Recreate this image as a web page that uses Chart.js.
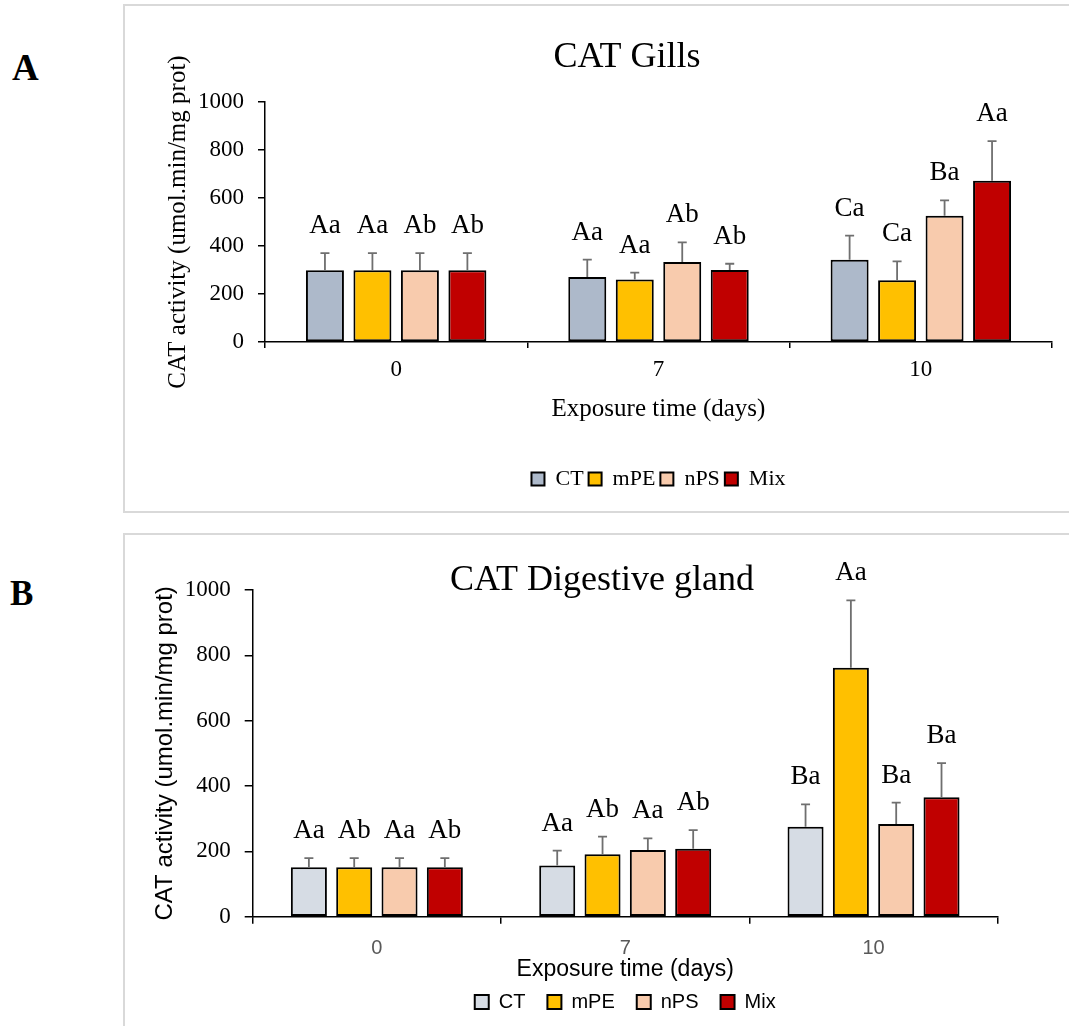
<!DOCTYPE html>
<html>
<head>
<meta charset="utf-8">
<script src="https://cdn.jsdelivr.net/npm/chart.js@4.4.1/dist/chart.umd.min.js"></script>
<style>
  body { margin: 0; width: 1069px; height: 1026px; position: relative; overflow: hidden; background: #fff; }
  .frame { position: absolute; border: 2px solid #d9d9d9; box-sizing: border-box; }
  .panel-letter { position: absolute; font-family: 'Liberation Serif', 'Times New Roman', serif; font-weight: bold; line-height: 1; color: #000; }
  canvas { position: absolute; left: 0; }
</style>
</head>
<body>
<div class="frame" style="left:123px; top:4px; width:1000px; height:509px;"></div>
<div class="frame" style="left:123px; top:533px; width:1000px; height:600px;"></div>
<div class="panel-letter" style="left:12px; top:49px; font-size:37px;">A</div>
<div class="panel-letter" style="left:10px; top:576px; font-size:35px;">B</div>
<canvas id="gillsChart" width="1069" height="520" style="top:0;"></canvas>
<canvas id="glandChart" width="1069" height="506" style="top:520px;"></canvas>

<script>
// categories and groups
const days = ['0', '7', '10'];
const groups = ['CT', 'mPE', 'nPS', 'Mix'];

// A - CAT gills (mean and upper error)
const gillsCT  = [299, 271, 343];
const gillsMPE = [299, 260, 257];
const gillsNPS = [299, 333, 526];
const gillsMix = [299, 300, 672];
const gillsErrCT  = [71, 72, 100];
const gillsErrMPE = [71, 29, 79];
const gillsErrNPS = [71, 82, 64];
const gillsErrMix = [71, 26, 165];
const gillsLetCT  = ['Aa', 'Aa', 'Ca'];
const gillsLetMPE = ['Aa', 'Aa', 'Ca'];
const gillsLetNPS = ['Ab', 'Ab', 'Ba'];
const gillsLetMix = ['Ab', 'Ab', 'Aa'];

// B - CAT digestive gland
const glandCT  = [151, 157, 275];
const glandMPE = [151, 191, 762];
const glandNPS = [151, 204, 284];
const glandMix = [151, 208, 366];
const glandErrCT  = [28, 45, 69];
const glandErrMPE = [28, 54, 206];
const glandErrNPS = [28, 36, 65];
const glandErrMix = [28, 57, 104];
const glandLetCT  = ['Aa', 'Aa', 'Ba'];
const glandLetMPE = ['Ab', 'Ab', 'Aa'];
const glandLetNPS = ['Aa', 'Aa', 'Ba'];
const glandLetMix = ['Ab', 'Ab', 'Ba'];

const yTicks = [0, 200, 400, 600, 800, 1000];

const serif = "'Liberation Serif', 'Times New Roman', serif";
const sans = "'Liberation Sans', Arial, sans-serif";

function buildDatasets(series, colors, catPct, barPct) {
    return series.map((values, i) => ({
        label: groups[i],
        data: values,
        backgroundColor: colors[i],
        borderColor: '#000',
        borderWidth: 2,
        borderSkipped: false,
        categoryPercentage: catPct,
        barPercentage: barPct
    }));
}

// error bars (upper only) and significance letters above each bar
function errorBars(errors, letters) {
    return {
        id: 'errorBars',
        afterDatasetsDraw(chart) {
            const ctx = chart.ctx;
            const yScale = chart.scales.y;
            chart.data.datasets.forEach((ds, i) => {
                chart.getDatasetMeta(i).data.forEach((bar, j) => {
                    const yTop = yScale.getPixelForValue(ds.data[j] + errors[i][j]);
                    ctx.save();
                    ctx.strokeStyle = '#6f6f6f';
                    ctx.lineWidth = 1.8;
                    ctx.beginPath();
                    ctx.moveTo(bar.x, bar.y);
                    ctx.lineTo(bar.x, yTop);
                    ctx.moveTo(bar.x - 4.5, yTop);
                    ctx.lineTo(bar.x + 4.5, yTop);
                    ctx.stroke();
                    ctx.fillStyle = '#000';
                    ctx.font = '27px ' + serif;
                    ctx.textAlign = 'center';
                    ctx.textBaseline = 'alphabetic';
                    ctx.fillText(letters[i][j], bar.x, yTop - 20);
                    ctx.restore();
                });
            });
        }
    };
}

function panelTitle(text, x, y) {
    return {
        id: 'panelTitle',
        afterDraw(chart) {
            const ctx = chart.ctx;
            ctx.save();
            ctx.font = '36px ' + serif;
            ctx.fillStyle = '#000';
            ctx.textAlign = 'center';
            ctx.textBaseline = 'alphabetic';
            ctx.fillText(text, x, y);
            ctx.restore();
        }
    };
}

function yScaleOptions(tickLen, pad, titleFont, titlePad, width) {
    return {
        min: 0,
        max: 1000,
        afterBuildTicks: s => { s.ticks = yTicks.map(v => ({ value: v })); },
        ticks: { font: { family: serif, size: 23 }, color: '#000', padding: pad, callback: v => String(v) },
        grid: { drawOnChartArea: false, tickLength: tickLen, color: '#000', lineWidth: 1.5 },
        border: { color: '#000', width: 1.5 },
        title: { display: true, text: 'CAT activity (umol.min/mg prot)', font: titleFont, color: '#000', padding: { top: titlePad, bottom: 0 } },
        afterFit: s => { s.width = width; }
    };
}

// Chart A
new Chart(document.getElementById('gillsChart').getContext('2d'), {
    type: 'bar',
    data: {
        labels: days,
        datasets: buildDatasets([gillsCT, gillsMPE, gillsNPS, gillsMix],
            ['#ADB9CA', '#FFC000', '#F8CBAD', '#C00000'], 0.724, 0.8)
    },
    options: {
        responsive: false,
        animation: false,
        devicePixelRatio: 1,
        layout: { padding: { top: 102, left: 150, right: 17, bottom: 20 } },
        scales: {
            x: {
                grid: { drawOnChartArea: false, tickLength: 6, color: '#000', lineWidth: 1.5 },
                border: { color: '#000', width: 1.5 },
                ticks: { font: { family: serif, size: 23 }, color: '#000', padding: 8 },
                title: { display: true, text: 'Exposure time (days)', font: { family: serif, size: 25 }, color: '#000', padding: { top: 0, bottom: 39 } },
                afterFit: s => { s.height = 121; }
            },
            y: yScaleOptions(7, 14, { family: serif, size: 25 }, 13, 115)
        },
        plugins: {
            legend: {
                position: 'bottom',
                fullSize: false,
                labels: { boxWidth: 13, boxHeight: 13, padding: 5, font: { family: serif, size: 22 }, color: '#000' }
            },
            tooltip: { enabled: false }
        }
    },
    plugins: [
        errorBars([gillsErrCT, gillsErrMPE, gillsErrNPS, gillsErrMix], [gillsLetCT, gillsLetMPE, gillsLetNPS, gillsLetMix]),
        panelTitle('CAT Gills', 627, 67)
    ]
});

// Chart B
new Chart(document.getElementById('glandChart').getContext('2d'), {
    type: 'bar',
    data: {
        labels: days,
        datasets: buildDatasets([glandCT, glandMPE, glandNPS, glandMix],
            ['#D6DCE4', '#FFC000', '#F8CBAD', '#C00000'], 0.73, 0.795)
    },
    options: {
        responsive: false,
        animation: false,
        devicePixelRatio: 1,
        layout: { padding: { top: 70, left: 140, right: 71.3, bottom: 4 } },
        scales: {
            x: {
                grid: { drawOnChartArea: false, tickLength: 7, color: '#000', lineWidth: 1.5 },
                border: { color: '#000', width: 1.5 },
                ticks: { font: { family: sans, size: 20 }, color: '#595959', padding: 13 },
                title: { display: true, text: 'Exposure time (days)', font: { family: sans, size: 23 }, color: '#000', padding: { top: 0, bottom: -13 } },
                afterFit: s => { s.height = 53.3; }
            },
            y: yScaleOptions(8, 14, { family: sans, size: 24 }, 10.6, 112.7)
        },
        plugins: {
            legend: {
                position: 'bottom',
                fullSize: false,
                labels: { boxWidth: 14, boxHeight: 14, padding: 22, font: { family: sans, size: 20 }, color: '#000' }
            },
            tooltip: { enabled: false }
        }
    },
    plugins: [
        errorBars([glandErrCT, glandErrMPE, glandErrNPS, glandErrMix], [glandLetCT, glandLetMPE, glandLetNPS, glandLetMix]),
        panelTitle('CAT Digestive gland', 602, 70)
    ]
});
</script>
</body>
</html>
